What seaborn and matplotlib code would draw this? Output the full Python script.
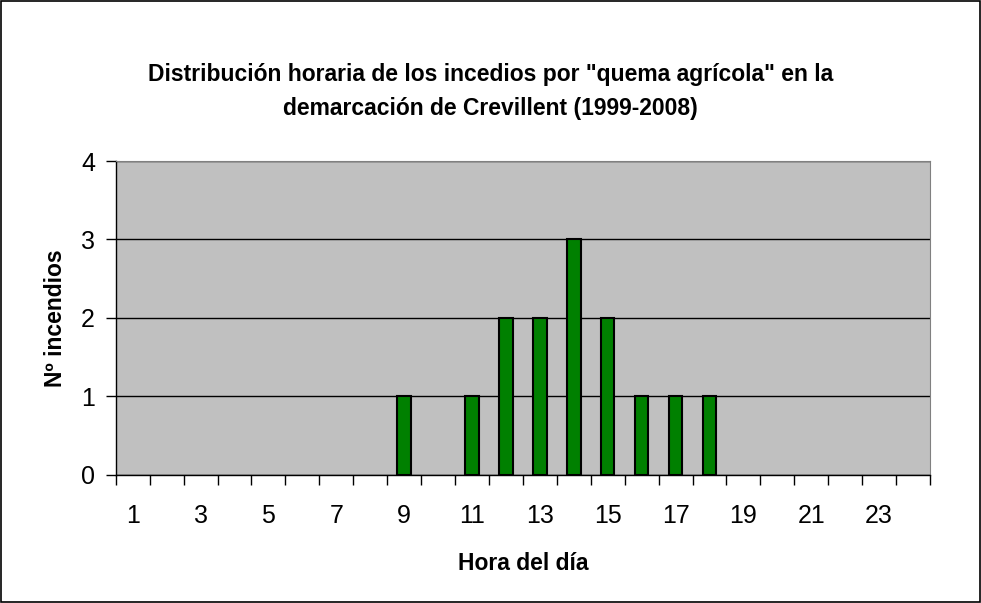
import numpy as np
import pandas as pd
import seaborn as sns
import matplotlib.pyplot as plt

# horas del dia y numero de incendios
horas = list(range(1, 25))
incendios = [0, 0, 0, 0, 0, 0, 0, 0, 1, 0, 1, 2, 2, 3, 2, 1, 1, 1, 0, 0, 0, 0, 0, 0]
etiquetas = [str(h) if h % 2 == 1 else "" for h in horas]

df = pd.DataFrame({"hora": [str(h) for h in horas], "n": incendios})

sns.set_style("white", {"text.color": "black", "axes.labelcolor": "black",
                        "xtick.color": "black", "ytick.color": "black"})
plt.rcParams['font.family'] = ['Liberation Sans', 'DejaVu Sans']

fig = plt.figure(figsize=(9.81, 6.03), dpi=100)
ax = fig.add_axes([0.118, 0.2123, 0.830, 0.5207])
ax.set_facecolor("#c0c0c0")

sns.barplot(data=df, x="hora", y="n", color="#008000", width=0.4,
            edgecolor="black", linewidth=1.5, saturation=1, ax=ax)
# sin borde en las barras vacias
for p in ax.patches:
    if p.get_height() == 0:
        p.set_linewidth(0)

ax.set_xlim(-0.5, 23.5)
ax.set_ylim(0, 4)
ax.set_yticks([0, 1, 2, 3, 4])
ax.yaxis.grid(True, color="black", linewidth=1)
ax.set_axisbelow(True)

# ticks en los limites de categoria, etiquetas en el centro
ax.set_xticks(range(24))
ax.set_xticklabels(etiquetas, fontsize=18)
ax.tick_params(axis="x", which="major", bottom=True, length=0, pad=21, labelcolor="black")
ax.set_xticks(np.arange(-0.5, 24, 1), minor=True)
ax.tick_params(axis="x", which="minor", bottom=True, length=7, width=1, color="black", direction="out")
ax.tick_params(axis="y", left=True, length=7, width=1, color="black", labelcolor="black",
               labelsize=18, direction="out", pad=8)

for s in ["top", "right"]:
    ax.spines[s].set_color("#808080")
for s in ["left", "bottom"]:
    ax.spines[s].set_color("black")
    ax.spines[s].set_linewidth(1)

ax.set_xlabel("Hora del día", fontsize=16.5, fontweight="bold", labelpad=17, color="black")
ax.set_ylabel("Nº incendios", fontsize=16.5, fontweight="bold", labelpad=10, color="black")

fig.text(0.5, 1 - 75 / 603, 'Distribución horaria de los incedios por "quema agrícola" en la',
         ha="center", va="center", fontsize=16.5, fontweight="bold", color="black")
fig.text(0.5, 1 - 108 / 603, 'demarcación de Crevillent (1999-2008)',
         ha="center", va="center", fontsize=16.5, fontweight="bold", color="black")

fig.patches.append(plt.Rectangle((0.001, 0.001), 0.998, 0.998, transform=fig.transFigure,
                                 fill=False, edgecolor="black", linewidth=1.2))

fig.savefig("out.png", dpi=100)
